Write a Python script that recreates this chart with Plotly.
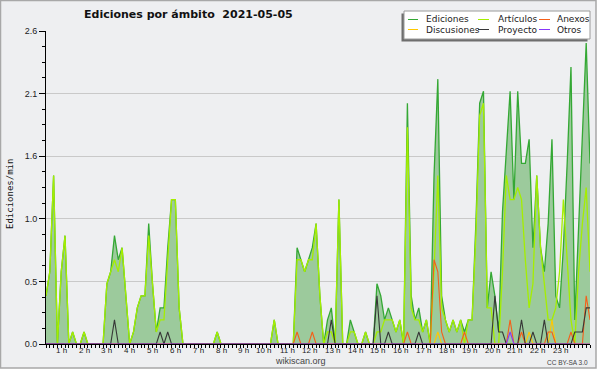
import pandas as pd
import plotly.graph_objects as go

# ---------------- data (edits per minute, 10-minute bins) ----------------
times = pd.date_range("2021-05-05 00:00", periods=144, freq="10min")

ediciones_by_hour = [
    [0.4, 0.6, 1.4, 0.0, 0.6, 0.9],
    [0.0, 0.1, 0.0, 0.0, 0.1, 0.0],
    [0.0, 0.0, 0.0, 0.0, 0.5, 0.6],
    [0.9, 0.7, 0.8, 0.4, 0.0, 0.1],
    [0.3, 0.4, 0.4, 1.0, 0.5, 0.1],
    [0.3, 0.3, 0.8, 1.2, 1.2, 0.3],
    [0.0, 0.0, 0.0, 0.0, 0.0, 0.0],
    [0.0, 0.0, 0.0, 0.1, 0.0, 0.0],
    [0.0, 0.0, 0.0, 0.0, 0.0, 0.0],
    [0.0, 0.0, 0.0, 0.0, 0.0, 0.0],
    [0.2, 0.0, 0.0, 0.0, 0.0, 0.0],
    [0.8, 0.7, 0.6, 0.7, 0.8, 1.0],
    [0.4, 0.0, 0.2, 0.3, 0.0, 1.2],
    [0.0, 0.0, 0.2, 0.1, 0.0, 0.0],
    [0.1, 0.0, 0.0, 0.5, 0.4, 0.2],
    [0.3, 0.2, 0.1, 0.2, 0.0, 2.0],
    [0.4, 0.2, 0.3, 0.1, 0.2, 0.0],
    [1.4, 2.2, 0.4, 0.2, 0.1, 0.2],
    [0.1, 0.2, 0.1, 0.2, 0.2, 1.0],
    [2.0, 2.1, 0.3, 0.6, 0.4, 0.1],
    [1.1, 1.6, 2.1, 1.2, 2.1, 1.5],
    [1.5, 1.7, 0.8, 1.4, 0.8, 0.6],
    [1.0, 1.7, 0.4, 0.3, 0.8, 1.5],
    [2.3, 0.2, 1.0, 1.8, 2.5, 1.5],
]

articulos_by_hour = [
    [0.4, 0.6, 1.4, 0.0, 0.6, 0.9],
    [0.0, 0.1, 0.0, 0.0, 0.1, 0.0],
    [0.0, 0.0, 0.0, 0.0, 0.5, 0.6],
    [0.7, 0.6, 0.8, 0.4, 0.0, 0.1],
    [0.3, 0.4, 0.4, 0.9, 0.5, 0.1],
    [0.2, 0.2, 0.7, 1.2, 1.2, 0.3],
    [0.0, 0.0, 0.0, 0.0, 0.0, 0.0],
    [0.0, 0.0, 0.0, 0.1, 0.0, 0.0],
    [0.0, 0.0, 0.0, 0.0, 0.0, 0.0],
    [0.0, 0.0, 0.0, 0.0, 0.0, 0.0],
    [0.2, 0.0, 0.0, 0.0, 0.0, 0.0],
    [0.7, 0.7, 0.6, 0.7, 0.7, 1.0],
    [0.4, 0.0, 0.1, 0.1, 0.0, 1.2],
    [0.0, 0.0, 0.1, 0.1, 0.0, 0.0],
    [0.1, 0.0, 0.0, 0.1, 0.1, 0.2],
    [0.2, 0.2, 0.1, 0.2, 0.0, 1.8],
    [0.3, 0.2, 0.2, 0.1, 0.2, 0.0],
    [0.6, 1.4, 0.3, 0.2, 0.1, 0.2],
    [0.1, 0.2, 0.0, 0.2, 0.2, 0.9],
    [1.9, 2.0, 0.3, 0.3, 0.0, 0.0],
    [0.6, 1.4, 1.2, 1.2, 1.3, 1.2],
    [0.7, 0.3, 0.5, 1.4, 0.8, 0.5],
    [0.2, 0.2, 0.3, 0.6, 1.2, 0.7],
    [0.2, 0.0, 0.6, 1.0, 1.3, 0.6],
]

anexos_by_hour = [[0.0] * 6] * 11 + [
    [0.1, 0.0, 0.0, 0.0, 0.1, 0.0],
    [0.0, 0.0, 0.0, 0.0, 0.0, 0.0],
    [0.0, 0.0, 0.0, 0.0, 0.0, 0.0],
    [0.0, 0.0, 0.0, 0.0, 0.0, 0.0],
    [0.0, 0.0, 0.0, 0.0, 0.0, 0.1],
    [0.0, 0.0, 0.0, 0.0, 0.0, 0.0],
    [0.7, 0.6, 0.1, 0.0, 0.0, 0.0],
    [0.0, 0.0, 0.1, 0.0, 0.0, 0.0],
    [0.0, 0.0, 0.0, 0.0, 0.0, 0.0],
    [0.0, 0.0, 0.2, 0.0, 0.0, 0.1],
    [0.0, 0.0, 0.0, 0.0, 0.0, 0.0],
    [0.1, 0.1, 0.0, 0.0, 0.0, 0.0],
    [0.1, 0.0, 0.0, 0.0, 0.4, 0.2],
]

discusiones_by_hour = [[0.0] * 6] * 17 + [
    [0.0, 0.1, 0.0, 0.0, 0.0, 0.0],
    [0.0, 0.0, 0.0, 0.0, 0.0, 0.0],
    [0.0, 0.0, 0.0, 0.0, 0.0, 0.0],
    [0.0, 0.0, 0.0, 0.0, 0.0, 0.0],
    [0.0, 0.1, 0.0, 0.0, 0.0, 0.0],
    [0.0, 0.2, 0.0, 0.0, 0.0, 0.0],
    [0.0, 0.0, 0.0, 0.0, 0.0, 0.0],
]

proyecto_by_hour = [
    [0.0, 0.0, 0.0, 0.0, 0.0, 0.0],
    [0.0, 0.0, 0.0, 0.0, 0.0, 0.0],
    [0.0, 0.0, 0.0, 0.0, 0.0, 0.0],
    [0.2, 0.0, 0.0, 0.0, 0.0, 0.0],
    [0.0, 0.0, 0.0, 0.0, 0.0, 0.0],
    [0.1, 0.0, 0.1, 0.0, 0.0, 0.0],
    [0.0, 0.0, 0.0, 0.0, 0.0, 0.0],
    [0.0, 0.0, 0.0, 0.0, 0.0, 0.0],
    [0.0, 0.0, 0.0, 0.0, 0.0, 0.0],
    [0.0, 0.0, 0.0, 0.0, 0.0, 0.0],
    [0.0, 0.0, 0.0, 0.0, 0.0, 0.0],
    [0.0, 0.0, 0.0, 0.0, 0.0, 0.0],
    [0.0, 0.0, 0.0, 0.2, 0.0, 0.0],
    [0.0, 0.0, 0.0, 0.0, 0.0, 0.0],
    [0.0, 0.0, 0.0, 0.4, 0.0, 0.0],
    [0.1, 0.0, 0.0, 0.0, 0.0, 0.0],
    [0.0, 0.0, 0.1, 0.0, 0.0, 0.0],
    [0.0, 0.0, 0.0, 0.0, 0.0, 0.0],
    [0.0, 0.0, 0.0, 0.0, 0.0, 0.0],
    [0.0, 0.0, 0.0, 0.0, 0.4, 0.1],
    [0.1, 0.0, 0.0, 0.0, 0.0, 0.2],
    [0.0, 0.0, 0.1, 0.0, 0.0, 0.2],
    [0.0, 0.0, 0.0, 0.0, 0.0, 0.0],
    [0.0, 0.1, 0.1, 0.1, 0.3, 0.3],
]

otros_by_hour = [[0.0] * 6] * 20 + [
    [0.0, 0.0, 0.1, 0.0, 0.0, 0.0],
    [0.0, 0.0, 0.0, 0.0, 0.0, 0.0],
    [0.0, 0.0, 0.0, 0.0, 0.0, 0.0],
    [0.0, 0.0, 0.0, 0.0, 0.0, 0.0],
]


def flat(rows):
    return [v for row in rows for v in row]


ediciones = flat(ediciones_by_hour)
articulos = flat(articulos_by_hour)
anexos = flat(anexos_by_hour)
discusiones = flat(discusiones_by_hour)
proyecto = flat(proyecto_by_hour)
otros = flat(otros_by_hour)

series_names = ["Ediciones", "Artículos", "Anexos", "Discusiones", "Proyecto", "Otros"]
y_tick_values = [0.0, 0.52, 1.04, 1.56, 2.08, 2.6]
y_tick_labels = ["0.0", "0.5", "1.0", "1.6", "2.1", "2.6"]
hour_labels = ["1 h", "2 h", "3 h", "4 h", "5 h", "6 h", "7 h", "8 h", "9 h", "10 h",
               "11 h", "12 h", "13 h", "14 h", "15 h", "16 h", "17 h", "18 h", "19 h",
               "20 h", "21 h", "22 h", "23 h"]
title_text = "Ediciones por ámbito  2021-05-05"
y_title = "Ediciones/min"

# ---------------- style ----------------
W, H = 600, 370
ML, MR, MT, MB = 46, 10, 31, 26
PW, PH = W - ML - MR, H - MT - MB

colors = {
    "Ediciones": "rgb(52,168,52)",
    "Artículos": "rgb(165,238,0)",
    "Anexos": "rgb(245,95,25)",
    "Discusiones": "rgb(255,200,0)",
    "Proyecto": "rgb(55,55,55)",
    "Otros": "rgb(135,55,250)",
}
fill_green = "rgb(156,202,156)"
bg = "#eeeff1"


def px(x):
    return (x - ML) / PW


def py(y):
    return (H - MB - y) / PH


fig = go.Figure()
fig.add_trace(go.Scatter(x=times, y=ediciones, name="Ediciones", mode="lines",
                         fill="tozeroy", fillcolor=fill_green,
                         line=dict(color=colors["Ediciones"], width=1.3)))
fig.add_trace(go.Scatter(x=times, y=articulos, name="Artículos", mode="lines",
                         line=dict(color=colors["Artículos"], width=1.3)))
fig.add_trace(go.Scatter(x=times, y=discusiones, name="Discusiones", mode="lines",
                         line=dict(color=colors["Discusiones"], width=1.1)))
fig.add_trace(go.Scatter(x=times, y=anexos, name="Anexos", mode="lines",
                         line=dict(color=colors["Anexos"], width=1.1)))
fig.add_trace(go.Scatter(x=times, y=proyecto, name="Proyecto", mode="lines",
                         line=dict(color=colors["Proyecto"], width=1.1)))
fig.add_trace(go.Scatter(x=times, y=otros, name="Otros", mode="lines",
                         line=dict(color=colors["Otros"], width=1.1)))

shapes = []
annotations = []

# outer frame
shapes.append(dict(type="rect", xref="paper", yref="paper", layer="below",
                   x0=px(0.5), x1=px(596), y0=py(368), y1=py(0.5),
                   fillcolor=bg, line=dict(color="#a8a8a8", width=1.5)))

# legend (drawn by hand to match the compact swatches)
shapes.append(dict(type="rect", xref="paper", yref="paper",
                   x0=px(401.5), x1=px(587.5), y0=py(41.5), y1=py(13.5),
                   fillcolor="#6e6e6e", line=dict(width=0)))
shapes.append(dict(type="rect", xref="paper", yref="paper",
                   x0=px(404), x1=px(590), y0=py(39), y1=py(11),
                   fillcolor="#ffffff", line=dict(color="#9a9a9a", width=1)))
legend_cols = [(408, 418, 424), (478, 489, 496), (539, 550, 555)]
legend_rows = [19.5, 29.5]
for k, name in enumerate(series_names):
    r, c = divmod(k, 3)
    sx0, sx1, tx = legend_cols[c]
    yy = legend_rows[r]
    shapes.append(dict(type="line", xref="paper", yref="paper",
                       x0=px(sx0), x1=px(sx1), y0=py(yy), y1=py(yy),
                       line=dict(color=colors[name], width=1)))
    annotations.append(dict(text=name, xref="paper", yref="paper",
                            x=px(tx), y=py(yy), xanchor="left", yanchor="middle",
                            showarrow=False,
                            font=dict(family="DejaVu Sans", size=9, color="#222")))

# title
annotations.append(dict(text="<b>" + title_text + "</b>", xref="paper", yref="paper",
                        x=px(188.5), y=py(14), xanchor="center", yanchor="middle",
                        showarrow=False,
                        font=dict(family="DejaVu Sans", size=11, color="#111")))
# y-axis title
annotations.append(dict(text=y_title, xref="paper", yref="paper", textangle=-90,
                        x=px(10), y=py(194), xanchor="center", yanchor="middle",
                        showarrow=False,
                        font=dict(family="DejaVu Sans Mono", size=9, color="#111")))
# hour labels (right-aligned on the hour tick)
for h, lab in enumerate(hour_labels, start=1):
    annotations.append(dict(text=lab, xref="x", yref="paper",
                            x=times[6 * h], y=py(350), xanchor="right",
                            yanchor="middle", showarrow=False,
                            font=dict(family="Liberation Sans Narrow, Liberation Sans, sans-serif",
                                      size=8, color="#222")))
# footers
annotations.append(dict(text="wikiscan.org", xref="paper", yref="paper",
                        x=px(300.5), y=py(361.5), xanchor="center", yanchor="middle",
                        showarrow=False,
                        font=dict(family="Liberation Sans", size=9, color="#444")))
annotations.append(dict(text="CC BY-SA 3.0", xref="paper", yref="paper",
                        x=px(590), y=py(362), xanchor="right", yanchor="middle",
                        showarrow=False,
                        font=dict(family="Liberation Sans", size=6.5, color="#444")))

fig.update_layout(
    width=W, height=H,
    margin=dict(l=ML, r=MR, t=MT, b=MB, pad=0),
    paper_bgcolor="#ffffff", plot_bgcolor=bg,
    showlegend=False,
    shapes=shapes, annotations=annotations,
    xaxis=dict(type="date", range=[times[0], times[-1]],
               tickmode="array", tickvals=list(times), showticklabels=False,
               ticks="outside", ticklen=3, tickwidth=1, tickcolor="#000",
               showgrid=False, zeroline=False,
               showline=True, linecolor="#000", linewidth=1),
    yaxis=dict(range=[0, 2.6], tickmode="array", tickvals=y_tick_values,
               ticktext=y_tick_labels, ticks="outside", ticklen=6, tickwidth=1,
               tickcolor="#000",
               tickfont=dict(family="Liberation Sans Narrow, Liberation Sans, sans-serif",
                             size=9, color="#222"),
               showgrid=True, gridcolor="#c9c9c9", gridwidth=1, zeroline=False,
               showline=True, linecolor="#000", linewidth=1,
               minor=dict(dtick=0.13, tick0=0, ticks="outside", ticklen=3,
                          tickcolor="#000", showgrid=False)),
)

fig.write_html("out.html", config={"displayModeBar": False},
               post_script="document.body.style.margin='0';document.body.style.overflow='hidden';")
